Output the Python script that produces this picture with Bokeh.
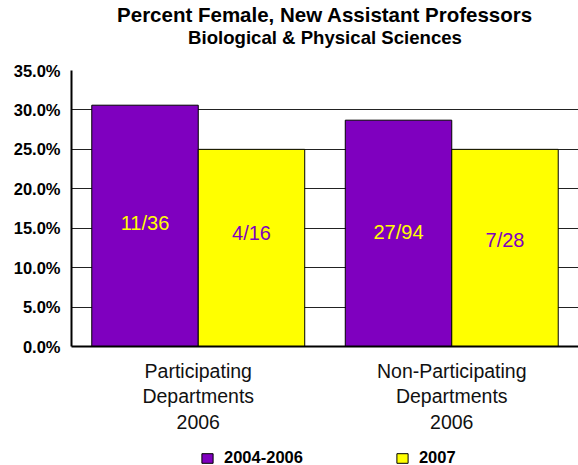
from bokeh.plotting import figure
from bokeh.layouts import column
from bokeh.models import (FactorRange, Range1d, Title, Legend, LegendItem,
                          PrintfTickFormatter, FixedTicker, ColumnDataSource)
from bokeh.transform import dodge
from bokeh.core.properties import value
from bokeh.embed import file_html
from bokeh.resources import INLINE

# ---- data ----
categories = ["Participating\nDepartments\n2006", "Non-Participating\nDepartments\n2006"]
series = ["2004-2006", "2007"]
vals_2004_2006 = [30.6, 28.7]
vals_2007 = [25.0, 25.0]
labels_2004_2006 = ["11/36", "27/94"]
labels_2007 = ["4/16", "7/28"]
label_y_2004_2006 = [15.6, 14.5]
label_y_2007 = [14.4, 13.5]
y_ticks = [0, 5, 10, 15, 20, 25, 30, 35]

PURPLE = "#7F00BF"
YELLOW = "#FFFF00"
FONT = "Liberation Sans"

src = ColumnDataSource(dict(
    cat=categories,
    a=vals_2004_2006, b=vals_2007,
    la=labels_2004_2006, lb=labels_2007,
    ya=label_y_2004_2006, yb=label_y_2007,
))

p = figure(width=578, height=435, x_range=FactorRange(factors=categories),
           y_range=Range1d(0, 35), output_backend="svg", toolbar_location=None,
           title=None, min_border_left=71, min_border_right=0,
           min_border_top=70, min_border_bottom=88)

# titles (stacked outward from the frame: spacer, subtitle, main title)
p.add_layout(Title(text=" ", text_font_size="1px", standoff=20), "above")
p.add_layout(Title(text="Biological & Physical Sciences", align="center",
                   text_font=FONT, text_font_size="18.6px", text_font_style="bold",
                   text_color="black", standoff=0), "above")
p.add_layout(Title(text="Percent Female, New Assistant Professors", align="center",
                   text_font=FONT, text_font_size="20.5px", text_font_style="bold",
                   text_color="black", standoff=-3), "above")

bw = 0.42
ra = p.vbar(x=dodge("cat", -0.21, range=p.x_range), top="a", width=bw, source=src,
            fill_color=PURPLE, line_color="black", line_width=1)
rb = p.vbar(x=dodge("cat", 0.21, range=p.x_range), top="b", width=bw, source=src,
            fill_color=YELLOW, line_color="black", line_width=1)

p.text(x=dodge("cat", -0.21, range=p.x_range), y="ya", text="la", source=src,
       text_align="center", text_baseline="middle", text_font=value(FONT),
       text_font_size="20px", text_color=YELLOW)
p.text(x=dodge("cat", 0.21, range=p.x_range), y="yb", text="lb", source=src,
       text_align="center", text_baseline="middle", text_font=value(FONT),
       text_font_size="20px", text_color=PURPLE)

# axes
p.yaxis.ticker = FixedTicker(ticks=y_ticks)
p.yaxis.formatter = PrintfTickFormatter(format="%.1f%%")
p.yaxis.major_label_text_font = FONT
p.yaxis.major_label_text_font_style = "bold"
p.yaxis.major_label_text_font_size = "16.5px"
p.yaxis.major_label_text_color = "black"
p.yaxis.major_tick_out = 0
p.yaxis.major_tick_in = 0
p.yaxis.minor_tick_out = 0
p.yaxis.minor_tick_in = 0
p.yaxis.axis_line_color = "black"
p.yaxis.axis_line_width = 2
p.yaxis.major_label_standoff = 11

p.xaxis.major_label_text_font = FONT
p.xaxis.major_label_text_font_size = "19.5px"
p.xaxis.major_label_text_color = "#111111"
p.xaxis.major_label_text_line_height = 1.17
p.xaxis.major_tick_out = 0
p.xaxis.major_tick_in = 0
p.xaxis.axis_line_color = "black"
p.xaxis.axis_line_width = 2
p.xaxis.major_label_standoff = 13

p.xgrid.grid_line_color = None
p.ygrid.grid_line_color = "#222222"
p.ygrid.grid_line_width = 1
p.outline_line_color = None
p.background_fill_color = "white"
p.border_fill_color = "white"
p.x_range.range_padding = 0

# ---- legend strip below the chart (its frame is aligned with the chart frame) ----
lf = figure(width=578, height=30, output_backend="svg", toolbar_location=None,
            x_range=FactorRange(factors=categories), y_range=Range1d(-2, -1),
            x_axis_location=None, y_axis_location=None,
            min_border_left=0, min_border_right=0, min_border_top=0, min_border_bottom=0)
lf.xgrid.grid_line_color = None
lf.ygrid.grid_line_color = None
lf.outline_line_color = None
lg_a = lf.vbar(x="cat", top="a", width=bw, source=src, fill_color=PURPLE,
               line_color="black", visible=False)
lg_b = lf.vbar(x="cat", top="b", width=bw, source=src, fill_color=YELLOW,
               line_color="black", visible=False)

legend = Legend(items=[LegendItem(label=series[0], renderers=[lg_a]),
                       LegendItem(label=series[1], renderers=[lg_b])],
                orientation="horizontal", location=(129, -2),
                label_text_font=FONT, label_text_font_size="16.5px",
                label_text_font_style="bold", label_text_color="black",
                glyph_width=14, glyph_height=12,
                label_standoff=10, spacing=92, padding=0, margin=0,
                border_line_color=None, background_fill_alpha=0)
lf.add_layout(legend, "center")

layout = column(p, lf, spacing=0)
open("out.html", "w").write(file_html(layout, INLINE))
